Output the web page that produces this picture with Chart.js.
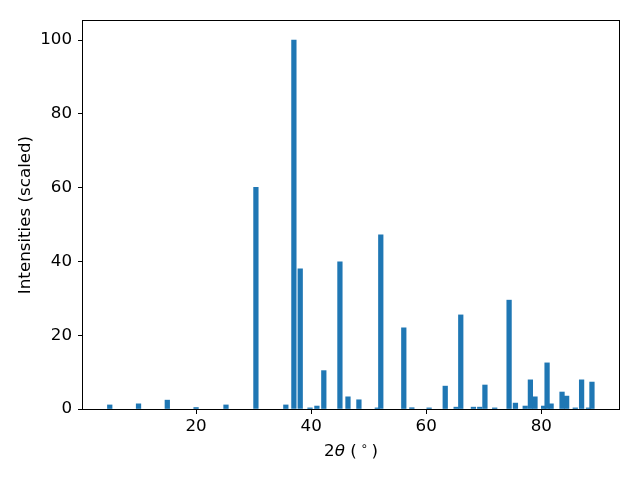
<!DOCTYPE html>
<html>
<head>
<meta charset="utf-8">
<script src="https://cdn.jsdelivr.net/npm/chart.js@4/dist/chart.umd.min.js"></script>
<style>
  html, body { margin: 0; padding: 0; background: #fff; }
  #wrap { width: 640px; height: 480px; }
</style>
</head>
<body>
<div id="wrap"><canvas id="xrd" width="640" height="480"></canvas></div>
<script>
// peak positions (2 theta, degrees) and scaled intensities
var twoTheta = [5.0, 10.0, 15.0, 20.0, 25.2, 30.4, 35.6, 37.0, 38.1, 39.8,
                41.0, 42.2, 45.0, 46.4, 48.3, 51.5, 52.1, 56.1, 57.5, 60.5,
                63.3, 65.2, 66.0, 68.2, 69.3, 70.2, 71.9, 74.4, 75.5, 77.2,
                78.1, 78.9, 80.4, 81.0, 81.7, 83.6, 84.4, 85.9, 87.0, 88.2, 88.8];
var intensity = [1.1, 1.4, 2.4, 0.4, 1.1, 60.1, 1.1, 100, 38.0, 0.3,
                 0.8, 10.4, 39.9, 3.3, 2.5, 0.3, 47.2, 22.0, 0.35, 0.3,
                 6.2, 0.5, 25.5, 0.5, 0.5, 6.5, 0.3, 29.5, 1.6, 0.8,
                 7.9, 3.3, 0.8, 12.5, 1.4, 4.6, 3.5, 0.3, 7.9, 0.3, 7.3];
var xTicks = [20, 40, 60, 80];
var yTicks = [0, 20, 40, 60, 80, 100];

var points = twoTheta.map(function (x, i) { return { x: x, y: intensity[i] }; });

var FONT = "'DejaVu Sans', sans-serif";
var FS = 16.7;

/* axes frame drawn like matplotlib spines */
var framePlugin = {
    id: 'frame',
    afterDatasetsDraw: function (chart) {
        var a = chart.chartArea, c = chart.ctx;
        c.save();
        c.strokeStyle = '#000';
        c.lineWidth = 1;
        c.strokeRect(Math.round(a.left) - 0.5, Math.round(a.top) - 0.5,
                     Math.round(a.right - a.left) + 1, Math.round(a.bottom - a.top) + 1);
        c.restore();
    }
};

/* x label with italic theta and superscript degree, like mathtext */
var xLabelPlugin = {
    id: 'xlabel',
    afterDraw: function (chart) {
        var a = chart.chartArea, c = chart.ctx;
        var parts = [
            { t: '2', f: FS + 'px ' + FONT, dy: 0 },
            { t: '\u03b8', f: 'italic ' + FS + 'px ' + FONT, dy: 0 },
            { t: ' (', f: FS + 'px ' + FONT, dy: 0 },
            { t: ' \u2218 ', f: (FS * 0.7) + 'px ' + FONT, dy: -6 },
            { t: ')', f: FS + 'px ' + FONT, dy: 0 }
        ];
        c.save();
        c.fillStyle = '#000';
        c.textBaseline = 'alphabetic';
        var total = 0;
        parts.forEach(function (p) { c.font = p.f; p.w = c.measureText(p.t).width; total += p.w; });
        var x = (a.left + a.right) / 2 - total / 2;
        var base = a.bottom + 47;
        parts.forEach(function (p) {
            c.font = p.f;
            c.fillText(p.t, x, base + p.dy);
            x += p.w;
        });
        c.restore();
    }
};

new Chart(document.getElementById('xrd'), {
    type: 'bar',
    data: {
        datasets: [{
            data: points,
            backgroundColor: '#1f77b4',
            borderWidth: 0,
            barThickness: 4.6
        }]
    },
    options: {
        responsive: false,
        animation: false,
        layout: { padding: { left: 0, right: 21, top: 21, bottom: 0 } },
        plugins: { legend: { display: false }, tooltip: { enabled: false } },
        scales: {
            x: {
                type: 'linear',
                min: 0.35,
                max: 93.5,
                offset: false,
                afterBuildTicks: function (axis) {
                    axis.ticks = xTicks.map(function (v) { return { value: v }; });
                },
                afterFit: function (axis) { axis.height = 71; },
                grid: { display: true, drawOnChartArea: false, drawTicks: true, tickLength: 5, color: '#000', offset: false },
                border: { display: false },
                ticks: { color: '#000', padding: 3, maxRotation: 0, font: { family: FONT, size: FS } },
                title: { display: false }
            },
            y: {
                min: 0,
                max: 105.15,
                afterBuildTicks: function (axis) {
                    axis.ticks = yTicks.map(function (v) { return { value: v }; });
                },
                afterFit: function (axis) { axis.width = 83; },
                grid: { display: true, drawOnChartArea: false, drawTicks: true, tickLength: 5, color: '#000' },
                border: { display: false },
                ticks: { color: '#000', padding: 6, font: { family: FONT, size: FS } },
                title: {
                    display: true,
                    text: 'Intensities (scaled)',
                    color: '#000',
                    padding: { top: 16, bottom: 0 },
                    font: { family: FONT, size: FS }
                }
            }
        }
    },
    plugins: [framePlugin, xLabelPlugin]
});
</script>
</body>
</html>
